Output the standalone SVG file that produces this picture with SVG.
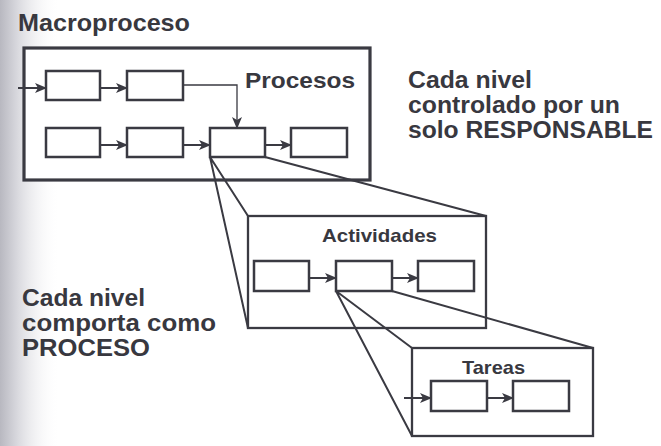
<svg xmlns="http://www.w3.org/2000/svg" width="661" height="446" viewBox="0 0 661 446">
  <defs>
    <linearGradient id="shade" x1="0" y1="0" x2="1" y2="0">
      <stop offset="0" stop-color="#b8b8c0"/>
      <stop offset="0.25" stop-color="#d4d4da"/>
      <stop offset="1" stop-color="#ffffff" stop-opacity="0"/>
    </linearGradient>
    <marker id="arr" viewBox="0 0 12 10" refX="11" refY="5" markerWidth="13" markerHeight="10" markerUnits="userSpaceOnUse" orient="auto">
      <path d="M0,0 L12,5 L0,10 L3,5 Z" fill="#3a3a42"/>
    </marker>
  </defs>
  <style>
    .t { font-family: "Liberation Sans", Arial, sans-serif; font-weight: bold; fill: #38383f; }
    .box { fill: #ffffff; stroke: #3a3a42; stroke-width: 2.5; }
    .frame { fill: #ffffff; stroke: #3a3a42; stroke-width: 2.3; }
    .line { fill: none; stroke: #3a3a42; stroke-width: 2; }
    .arrow { fill: none; stroke: #3a3a42; stroke-width: 2; marker-end: url(#arr); }
    .thin { fill: none; stroke: #3a3a42; stroke-width: 1.3; marker-end: url(#arr); }
  </style>
  <rect x="0" y="0" width="661" height="446" fill="#ffffff"/>
  <rect x="0" y="0" width="60" height="446" fill="url(#shade)"/>

  <text class="t" x="18" y="31" font-size="24" textLength="172" lengthAdjust="spacingAndGlyphs">Macroproceso</text>

  <g id="macroproceso">
    <rect x="24" y="48" width="346" height="132" fill="#ffffff" stroke="#3a3a42" stroke-width="3.2"/>
    <text class="t" x="245" y="88" font-size="22" textLength="110" lengthAdjust="spacingAndGlyphs">Procesos</text>
  </g>

  <g id="projection-lines">
    <path class="line" d="M210,157 L248,216 M210,157 L248,328 M265,157 L486,216"/>
  </g>

  <g id="actividades">
    <rect class="frame" x="248" y="216" width="238" height="112"/>
    <text class="t" x="322" y="242" font-size="19" textLength="115" lengthAdjust="spacingAndGlyphs">Actividades</text>
  </g>

  <g id="projection-lines-2">
    <path class="line" d="M336,291 L412,348 M336,291 L412,436 M392,291 L593,348"/>
  </g>

  <g id="tareas">
    <rect class="frame" x="412" y="348" width="181" height="88"/>
    <text class="t" x="462" y="374" font-size="19" textLength="63" lengthAdjust="spacingAndGlyphs">Tareas</text>
  </g>

  <g id="p1"><rect class="box" x="46" y="71" width="54" height="29"/></g>
  <g id="p2"><rect class="box" x="127" y="71" width="56" height="29"/></g>
  <g id="p3"><rect class="box" x="46" y="128" width="54" height="29"/></g>
  <g id="p4"><rect class="box" x="127" y="128" width="56" height="29"/></g>
  <g id="p5"><rect class="box" x="210" y="128" width="55" height="29"/></g>
  <g id="p6"><rect class="box" x="291" y="128" width="56" height="29"/></g>

  <g id="a1"><rect class="box" x="254" y="261" width="55" height="30"/></g>
  <g id="a2"><rect class="box" x="336" y="261" width="56" height="30"/></g>
  <g id="a3"><rect class="box" x="418" y="261" width="56" height="30"/></g>

  <g id="t1"><rect class="box" x="431" y="381" width="56" height="30"/></g>
  <g id="t2"><rect class="box" x="513" y="381" width="56" height="30"/></g>

  <g id="connectors">
    <line class="arrow" x1="18" y1="88" x2="46" y2="88"/>
    <line class="arrow" x1="100" y1="88" x2="127" y2="88"/>
    <path class="thin" d="M183,85 L237,85 L237,128"/>
    <line class="arrow" x1="100" y1="145" x2="127" y2="145"/>
    <line class="arrow" x1="183" y1="145" x2="210" y2="145"/>
    <line class="arrow" x1="265" y1="145" x2="291" y2="145"/>
    <line class="arrow" x1="309" y1="278" x2="336" y2="278"/>
    <line class="arrow" x1="392" y1="278" x2="418" y2="278"/>
    <line class="arrow" x1="404" y1="398" x2="431" y2="398"/>
    <line class="arrow" x1="487" y1="398" x2="513" y2="398"/>
  </g>

  <g id="note-right">
    <text class="t" x="408" y="88" font-size="23" textLength="124" lengthAdjust="spacingAndGlyphs">Cada nivel</text>
    <text class="t" x="408" y="113" font-size="23" textLength="212" lengthAdjust="spacingAndGlyphs">controlado por un</text>
    <text class="t" x="408" y="138" font-size="23" textLength="245" lengthAdjust="spacingAndGlyphs">solo RESPONSABLE</text>
  </g>

  <g id="note-left">
    <text class="t" x="22" y="306" font-size="23" textLength="123" lengthAdjust="spacingAndGlyphs">Cada nivel</text>
    <text class="t" x="22" y="331" font-size="23" textLength="194" lengthAdjust="spacingAndGlyphs">comporta como</text>
    <text class="t" x="22" y="356" font-size="23" textLength="128" lengthAdjust="spacingAndGlyphs">PROCESO</text>
  </g>
</svg>
